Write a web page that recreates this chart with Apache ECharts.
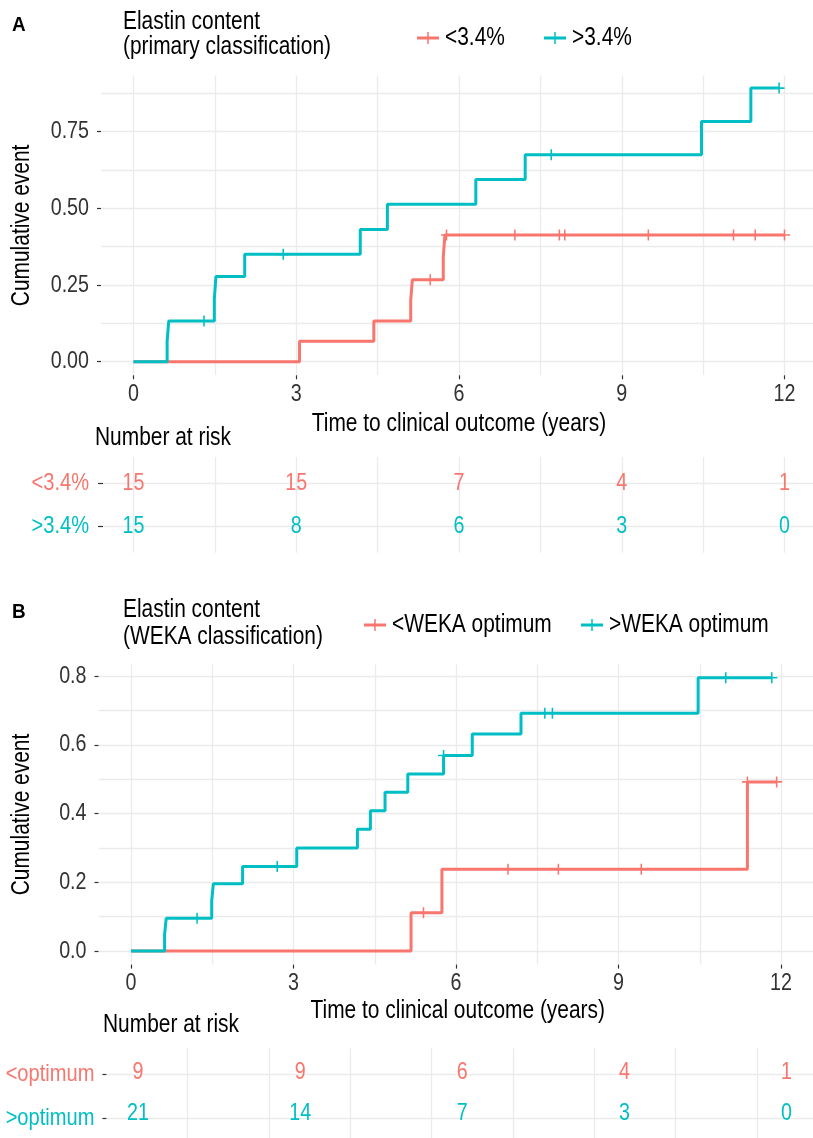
<!DOCTYPE html>
<html><head><meta charset="utf-8">
<script src="https://cdn.jsdelivr.net/npm/echarts@6/dist/echarts.min.js"></script>
<style>html,body{margin:0;padding:0;background:#fff}#c{width:813px;height:1138px}</style>
</head><body><div id="c"></div>
<script>
// ================= DATA =================
const xTickValues = [0, 3, 6, 9, 12];
const riskTimes = [0, 3, 6, 9, 12];

// ---- Panel A (primary classification) ----
const aGroupNames = ['<3.4%', '>3.4%'];
const aLowTimes   = [0, 3.06, 4.43, 5.11, 5.14, 5.71, 5.74, 12.0];
const aLowCum     = [0, 0.067, 0.133, 0.200, 0.267, 0.340, 0.413, 0.413];
const aLowCensor  = [5.47, 5.77, 7.03, 7.85, 7.95, 9.49, 11.06, 11.46, 12.0];
const aHighTimes  = [0, 0.62, 0.65, 1.49, 1.52, 2.05, 4.18, 4.68, 6.31, 7.22, 10.47, 11.38, 11.90];
const aHighCum    = [0, 0.067, 0.133, 0.206, 0.278, 0.350, 0.431, 0.513, 0.594, 0.675, 0.783, 0.892, 0.892];
const aHighCensor = [1.30, 2.76, 7.70, 11.90];
const aYTicks     = [0, 0.25, 0.5, 0.75];
const aRiskLow    = [15, 15, 7, 4, 1];
const aRiskHigh   = [15, 8, 6, 3, 0];

// ---- Panel B (WEKA classification) ----
const bLegendNames = ['<WEKA optimum', '>WEKA optimum'];
const bGroupNames  = ['<optimum', '>optimum'];
const bLowTimes    = [0, 5.17, 5.74, 11.38, 11.92];
const bLowCum      = [0, 0.111, 0.238, 0.492, 0.492];
const bLowCensor   = [5.40, 6.96, 7.89, 9.42, 11.38, 11.92];
const bHighTimes   = [0, 0.62, 0.65, 1.49, 1.52, 2.06, 3.06, 4.18, 4.42, 4.69, 5.11, 5.77, 6.30, 7.20, 10.47, 11.83];
const bHighCum     = [0, 0.048, 0.095, 0.146, 0.196, 0.246, 0.300, 0.354, 0.408, 0.462, 0.515, 0.569, 0.631, 0.692, 0.795, 0.795];
const bHighCensor  = [1.22, 2.70, 5.77, 7.64, 7.78, 10.98, 11.83];
const bYTicks      = [0, 0.2, 0.4, 0.6, 0.8];
const bRiskLow     = [9, 9, 6, 4, 1];
const bRiskHigh    = [21, 14, 7, 3, 0];

// ================= STYLE =================
const RED = '#F8766D', TEAL = '#00BFC4', GRID = '#EBEBEB', INK = '#333333';
const FONT = "'Liberation Sans',Arial,sans-serif";
const NARROW = 0.82;   // horizontal condensing of the original typeface
const PLUS = 'path://M0,4.3H4.3V0H5.7V4.3H10V5.7H5.7V10H4.3V5.7H0Z';
const W = 813;

const grids = [], xAxes = [], yAxes = [], series = [], graphics = [], deferred = [];
let chart;
function addGrid(left, top, width, height) { grids.push({left, top, width, height, containLabel: false}); return grids.length - 1; }
function base(gi, o) {
  return Object.assign({type: 'value', gridIndex: gi, axisLine: {show: false}, axisTick: {show: false},
    axisLabel: {show: false}, splitLine: {show: false}, minorSplitLine: {show: false}}, o);
}
function addX(gi, o) { xAxes.push(base(gi, o || {})); return xAxes.length - 1; }
function addY(gi, o) { yAxes.push(base(gi, o || {})); return yAxes.length - 1; }
function txt(text, x, y, o) {
  o = o || {};
  graphics.push({type: 'text', x, y, rotation: o.rot || 0, scaleX: o.scaleX || NARROW, scaleY: 1, silent: true, z: 10,
    style: {text, fill: o.color || '#000', font: (o.weight || 'normal') + ' ' + (o.size || 25.5) + 'px ' + FONT,
      align: o.align || 'left', verticalAlign: 'middle'}});
}
function legendKey(cx, y, color) {
  graphics.push({type: 'line', silent: true, shape: {x1: cx - 11, y1: y, x2: cx + 11, y2: y}, style: {stroke: color, lineWidth: 3}});
  graphics.push({type: 'line', silent: true, shape: {x1: cx, y1: y - 6, x2: cx, y2: y + 6}, style: {stroke: color, lineWidth: 1.5}});
}
function cumAt(times, cum, t) {
  let v = cum[0];
  for (let i = 0; i < times.length; i++) if (times[i] <= t + 1e-9) v = cum[i];
  return v;
}
const px = (xi, v) => chart.convertToPixel({xAxisIndex: xi}, v);
const py = (yi, v) => chart.convertToPixel({yAxisIndex: yi}, v);

function buildPanel(P) {
  const gridMax = P.gridStep * Math.floor((P.y0 - P.panelTop) / P.yScale / P.gridStep + 1e-6);
  // horizontal grid lines over full panel width
  const gH = addGrid(P.panelLeft, P.y0 - gridMax * P.yScale, W - P.panelLeft, gridMax * P.yScale);
  addX(gH, {min: 0, max: 1});
  addY(gH, {min: 0, max: gridMax, interval: P.gridStep, splitLine: {show: true, lineStyle: {color: GRID, width: 1.3}}});
  // y ticks
  const labelMax = P.yTicks[P.yTicks.length - 1], labelStep = P.yTicks[1] - P.yTicks[0];
  const gL = addGrid(P.panelLeft, P.y0 - labelMax * P.yScale, W - P.panelLeft, labelMax * P.yScale);
  addX(gL, {min: 0, max: 1});
  const yLab = addY(gL, {min: 0, max: labelMax, interval: labelStep,
    axisTick: {show: true, length: 4, lineStyle: {color: INK, width: 1.2}}});
  // data grid (x from 0 to 12)
  const gD = addGrid(P.x0, P.panelTop, P.x12 - P.x0, P.panelBottom - P.panelTop);
  const xMax = xTickValues[xTickValues.length - 1];
  addX(gD, {min: 0, max: xMax, interval: (xTickValues[1] - xTickValues[0]) / 2, position: 'top',
    splitLine: {show: true, lineStyle: {color: GRID, width: 1.3}}});
  const xT = addX(gD, {min: 0, max: xMax, interval: xTickValues[1] - xTickValues[0], position: 'bottom',
    axisTick: {show: true, length: 4, lineStyle: {color: INK, width: 1.2}}});
  const yD = addY(gD, {min: -(P.panelBottom - P.y0) / P.yScale, max: (P.y0 - P.panelTop) / P.yScale});
  const curves = [
    {times: P.lowTimes, cum: P.lowCum, cens: P.lowCensor, color: RED},
    {times: P.highTimes, cum: P.highCum, cens: P.highCensor, color: TEAL}
  ];
  curves.forEach(c => {
    series.push({type: 'line', step: 'end', xAxisIndex: xT, yAxisIndex: yD, clip: false, silent: true, animation: false,
      showSymbol: false, symbol: 'none', data: c.times.map((t, i) => [t, c.cum[i]]),
      lineStyle: {color: c.color, width: 3}, itemStyle: {color: c.color}});
    series.push({type: 'scatter', xAxisIndex: xT, yAxisIndex: yD, clip: false, silent: true, animation: false,
      symbol: PLUS, symbolSize: 11, data: c.cens.map(t => [t, cumAt(c.times, c.cum, t)]),
      itemStyle: {color: c.color, opacity: 1}});
  });
  // texts
  txt(P.tag, P.tagX, P.tagY, {weight: 'bold', size: 21, scaleX: 0.9});
  txt('Elastin content', P.legX, P.legY1);
  txt(P.legSub, P.legX, P.legY2);
  legendKey(P.key1, P.keyY, RED); txt(P.legendNames[0], P.key1 + 17, P.keyY);
  legendKey(P.key2, P.keyY, TEAL); txt(P.legendNames[1], P.key2 + 17, P.keyY);
  txt('Cumulative event', 22, (P.panelTop + P.panelBottom) / 2, {rot: Math.PI / 2, align: 'center'});
  txt('Time to clinical outcome (years)', (P.panelLeft + W + 4) / 2, P.xTitleY, {align: 'center'});
  deferred.push(() => {
    P.yTicks.forEach(v => txt(Number(v).toFixed(P.dec), P.panelLeft - 12, py(yLab, v), {align: 'right', size: 24, color: INK}));
    xTickValues.forEach(t => txt(String(t), px(xT, t), P.panelBottom + 19, {align: 'center', size: 24, color: INK}));
  });
}

function buildTable(T) {
  const bottom = T.rowTop + 1.6 * T.rowGap, top = T.rowTop - 0.6 * T.rowGap;
  const gV = addGrid(T.vFirst, top, T.vStep * (T.vCount - 1), bottom - top);
  addX(gV, {min: 0, max: 1.5 * (T.vCount - 1), interval: 1.5, splitLine: {show: true, lineStyle: {color: GRID, width: 1.3}}});
  addY(gV, {min: 0, max: 1});
  const gR = addGrid(T.left, T.rowTop, W - T.left, T.rowGap);
  addX(gR, {min: 0, max: 1});
  const yR = addY(gR, {min: 1, max: 2, interval: 1, inverse: true,
    splitLine: {show: true, lineStyle: {color: GRID, width: 1.3}},
    axisTick: {show: true, length: T.tickLen, lineStyle: {color: INK, width: 1.2}}});
  const gN = addGrid(T.x0, top, T.x12 - T.x0, bottom - top);
  const xN = addX(gN, {min: 0, max: riskTimes[riskTimes.length - 1]});
  const yN = addY(gN, {min: 0.4, max: 2.6, inverse: true});
  txt('Number at risk', T.titleX, T.titleY);
  deferred.push(() => {
    [[T.low, 1, RED], [T.high, 2, TEAL]].forEach(([counts, row, color]) => {
      txt(T.names[row - 1], T.left - T.labMargin, py(yR, row), {align: 'right', size: 24.5, color});
      riskTimes.forEach((t, i) => txt(String(counts[i]), px(xN, t), py(yN, row), {align: 'center', size: 24, color}));
    });
  });
}

buildPanel({tag: 'A', tagX: 12, tagY: 25, legX: 123, legY1: 22, legY2: 47, legSub: '(primary classification)',
  key1: 428, key2: 555, keyY: 38, legendNames: aGroupNames,
  panelLeft: 101, x0: 133.5, x12: 784.5, y0: 361.7, yScale: 306.7, panelTop: 75.5, panelBottom: 375.3,
  gridStep: 0.125, yTicks: aYTicks, dec: 2, xTitleY: 424,
  lowTimes: aLowTimes, lowCum: aLowCum, lowCensor: aLowCensor, highTimes: aHighTimes, highCum: aHighCum, highCensor: aHighCensor});
buildTable({names: aGroupNames, low: aRiskLow, high: aRiskHigh, left: 103, rowTop: 482.9, rowGap: 43.6,
  vFirst: 133.5, vStep: 81.375, vCount: 9, x0: 133.5, x12: 784.5, tickLen: 5, labMargin: 14, titleX: 95, titleY: 438});

buildPanel({tag: 'B', tagX: 12, tagY: 612, legX: 123, legY1: 610, legY2: 637, legSub: '(WEKA classification)',
  key1: 375, key2: 592, keyY: 625, legendNames: bLegendNames,
  panelLeft: 98.5, x0: 131, x12: 781, y0: 951, yScale: 343.75, panelTop: 664.4, panelBottom: 964.6,
  gridStep: 0.1, yTicks: bYTicks, dec: 1, xTitleY: 1011,
  lowTimes: bLowTimes, lowCum: bLowCum, lowCensor: bLowCensor, highTimes: bHighTimes, highCum: bHighCum, highCensor: bHighCensor});
buildTable({names: bGroupNames, low: bRiskLow, high: bRiskHigh, left: 106.4, rowTop: 1074.5, rowGap: 44,
  vFirst: 187.7, vStep: 81.3, vCount: 8, x0: 138, x12: 786.5, tickLen: 4, labMargin: 12, titleX: 103, titleY: 1025});

chart = echarts.init(document.getElementById('c'), null, {renderer: 'canvas'});
chart.setOption({animation: false, backgroundColor: '#fff', grid: grids, xAxis: xAxes, yAxis: yAxes, series});
deferred.forEach(f => f());
chart.setOption({graphic: graphics});
</script></body></html>
